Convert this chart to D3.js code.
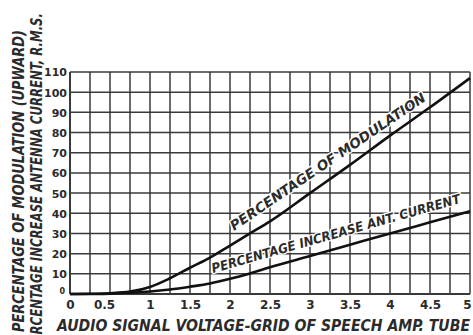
<!DOCTYPE html>
<html>
<head>
<meta charset="utf-8">
<script src="https://cdn.jsdelivr.net/npm/d3@7/dist/d3.min.js"></script>
<style>
  html, body { margin: 0; padding: 0; background: #fff; }
  svg { display: block; }
</style>
</head>
<body>
<svg id="chart" width="473" height="335"></svg>
<script>
// ---- data ----
const voltage = [0, 0.25, 0.5, 0.75, 1, 1.25, 1.5, 1.75, 2, 2.25, 2.5, 3, 3.5, 4, 4.5, 5];
const modulation = [0, 0.1, 0.4, 1.2, 3.5, 7.8, 13, 18, 24, 30, 36, 50, 64, 78.5, 92.5, 107];
const antennaIncrease = [0, 0, 0.2, 0.6, 1.2, 2.2, 3.6, 5.2, 7.5, 10.2, 13.2, 18.8, 24.4, 30, 35.5, 41];
const xTickValues = [0, 0.5, 1, 1.5, 2, 2.5, 3, 3.5, 4, 4.5, 5];
const xTickLabels = ["0", "0.5", "1", "1.5", "2", "2.5", "3", "3.5", "4", "4.5", "5"];
const yTickValues = [0, 10, 20, 30, 40, 50, 60, 70, 80, 90, 100, 110];
const xGridValues = d3.range(0, 5.0001, 0.25);
const xTitle = "AUDIO SIGNAL VOLTAGE-GRID OF SPEECH AMP. TUBE";
const yTitle1 = "PERCENTAGE OF MODULATION (UPWARD)";
const yTitle2 = "PERCENTAGE INCREASE ANTENNA CURRENT, R.M.S.";
const curveLabel1 = "PERCENTAGE OF MODULATION";
const curveLabel2 = "PERCENTAGE INCREASE ANT. CURRENT";

// ---- layout ----
const svg = d3.select("#chart");
const plotLeft = 70, plotRight = 470, plotTop = 72, plotBottom = 294;
const x = d3.scaleLinear().domain([0, 5]).range([plotLeft, plotRight]);
const y = d3.scaleLinear().domain([0, 110]).range([plotBottom, plotTop]);

const ink = "#2b2b2b";
const gridColor = "#3a3a3a";
const titleFont = "'DejaVu Sans Condensed', 'Liberation Sans Narrow', 'DejaVu Sans', sans-serif";
const tickFont = "'DejaVu Sans', 'Liberation Sans', sans-serif";

// grid
const g = svg.append("g");
g.selectAll("line.v").data(xGridValues).join("line")
  .attr("class", "v")
  .attr("x1", d => x(d)).attr("x2", d => x(d))
  .attr("y1", y(110)).attr("y2", y(0))
  .attr("stroke", gridColor).attr("stroke-width", d => d === 0 ? 2 : 1.5);
g.selectAll("line.h").data(yTickValues).join("line")
  .attr("class", "h")
  .attr("x1", x(0)).attr("x2", x(5))
  .attr("y1", d => y(d)).attr("y2", d => y(d))
  .attr("stroke", gridColor).attr("stroke-width", d => d === 0 ? 2.2 : 1.5);

// x axis tick labels via d3 axis
const xAxis = d3.axisBottom(x).tickValues(xTickValues)
  .tickFormat((d, i) => xTickLabels[i]).tickSize(0).tickPadding(0);
const xg = svg.append("g").attr("transform", `translate(0, ${plotBottom})`).call(xAxis);
xg.select(".domain").remove();
xg.selectAll("text")
  .attr("y", 15).attr("dy", 0)
  .attr("font-family", tickFont).attr("font-weight", "bold")
  .attr("font-size", 12).attr("fill", ink)
  .attr("transform", d => d === 5 ? "translate(-3,0)" : (d === 0.5 ? "translate(-6,0)" : null));

// y axis tick labels via d3 axis
const yAxis = d3.axisLeft(y).tickValues(yTickValues).tickSize(0).tickPadding(0);
const yg = svg.append("g").attr("transform", `translate(${plotLeft - 3}, 0)`).call(yAxis);
yg.select(".domain").remove();
yg.selectAll("text")
  .attr("x", 0).attr("dy", "0.36em")
  .attr("font-family", tickFont).attr("font-weight", "bold")
  .attr("font-size", d => d === 0 ? 8 : 11)
  .attr("fill", ink)
  .attr("transform", d => d === 0 ? "translate(-2,-3)" : null);

// curves
const line = d3.line().x(d => x(d[0])).y(d => y(d[1])).curve(d3.curveMonotoneX);
svg.append("path")
  .datum(voltage.map((v, i) => [v, modulation[i]]))
  .attr("d", line).attr("fill", "none").attr("stroke", "#111").attr("stroke-width", 2.6);
svg.append("path")
  .datum(voltage.map((v, i) => [v, antennaIncrease[i]]))
  .attr("d", line).attr("fill", "none").attr("stroke", "#111").attr("stroke-width", 2.6);

// curve labels
function slantLabel(text, x0, y0, angle, len, size) {
  svg.append("text")
    .attr("transform", `translate(${x0},${y0}) rotate(${angle})`)
    .attr("font-family", titleFont).attr("font-style", "italic").attr("font-weight", "bold")
    .attr("font-size", size).attr("fill", ink)
    .attr("textLength", len).attr("lengthAdjust", "spacingAndGlyphs")
    .attr("paint-order", "stroke").attr("stroke", "#fff").attr("stroke-width", 2.5)
    .text(text);
}
slantLabel(curveLabel1, 234, 231, -34.2, 233, 13.5);
slantLabel(curveLabel2, 213, 273, -15.8, 258, 13);

// axis titles
svg.append("text")
  .attr("x", 57).attr("y", 331)
  .attr("font-family", titleFont).attr("font-style", "italic").attr("font-weight", "bold")
  .attr("font-size", 15.5).attr("fill", ink)
  .attr("textLength", 413).attr("lengthAdjust", "spacingAndGlyphs")
  .text(xTitle);

svg.append("text")
  .attr("transform", "translate(24,332) rotate(-90)")
  .attr("font-family", titleFont).attr("font-style", "italic").attr("font-weight", "bold")
  .attr("font-size", 15.5).attr("fill", ink)
  .attr("textLength", 302).attr("lengthAdjust", "spacingAndGlyphs")
  .text(yTitle1);

svg.append("text")
  .attr("transform", "translate(42,13) rotate(-90)")
  .attr("text-anchor", "end")
  .attr("font-family", titleFont).attr("font-style", "italic").attr("font-weight", "bold")
  .attr("font-size", 15.5).attr("fill", ink)
  .attr("textLength", 338).attr("lengthAdjust", "spacingAndGlyphs")
  .text(yTitle2);
</script>
</body>
</html>
